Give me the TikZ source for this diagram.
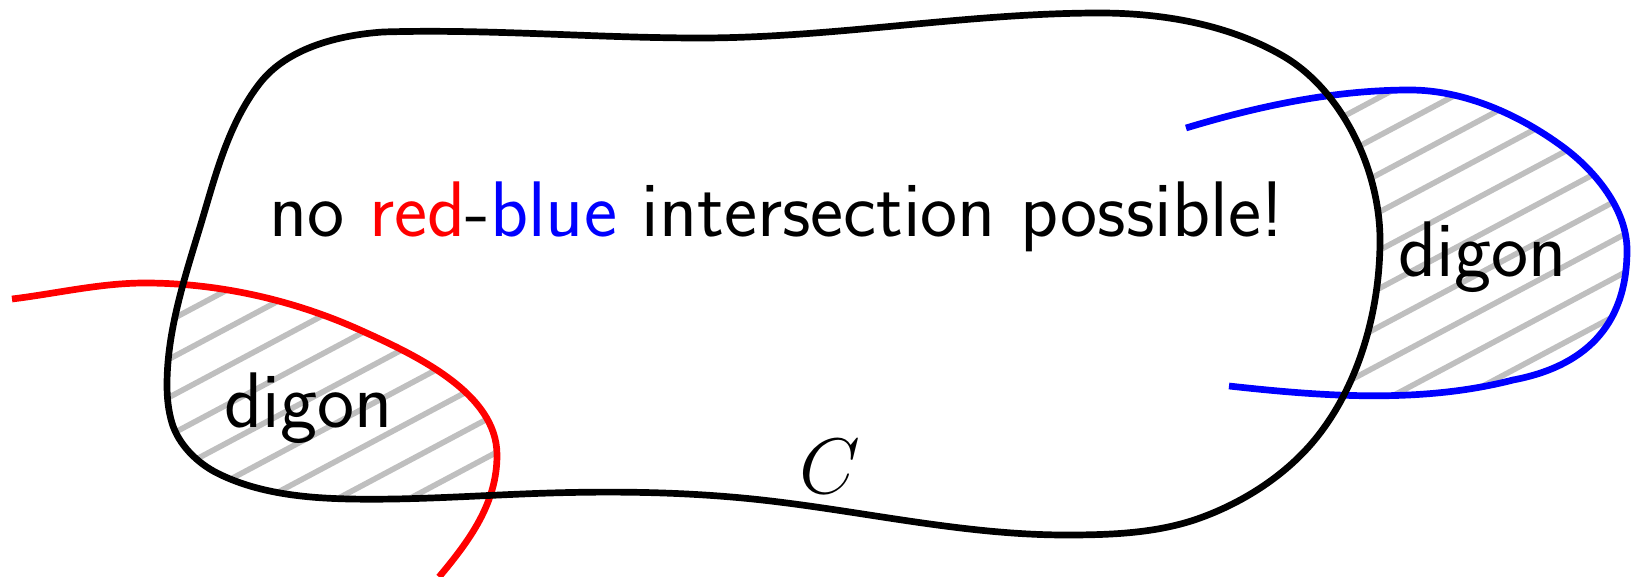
\RequirePackage{fix-cm}
\documentclass[tikz,border=0pt]{standalone}
\usepackage{fontspec}
\begin{document}
\begin{tikzpicture}[x=0.5pt,y=-0.5pt,
  curve/.style={line width=3.35pt},
  hatch/.style={lightgray,line width=2.8pt},
  lbl/.style={inner sep=0pt,anchor=base,font=\sffamily\fontsize{39.4}{47}\selectfont}]
\useasboundingbox (0,0) rectangle (1632,577);
\newcommand{\blackcurve}{(167,385)
 .. controls (167,331.2) and (184.4,278.6) .. (200,227)
 .. controls (215.1,177.1) and (227.8,124.1) .. (260,83)
 .. controls (287.5,47.9) and (338.6,35.1) .. (383,32)
 .. controls (488.7,28.8) and (594.3,38) .. (700,38)
 .. controls (833.6,38) and (966.4,13) .. (1100,13)
 .. controls (1162.7,13) and (1229.1,24.6) .. (1283,56)
 .. controls (1342.6,90.7) and (1380,170.7) .. (1380,240)
 .. controls (1380,308.9) and (1359.7,383.3) .. (1317,437)
 .. controls (1287.6,474) and (1244.6,501.9) .. (1200,518)
 .. controls (1157.7,533.3) and (1111,535) .. (1066,535)
 .. controls (964,535) and (863,511.2) .. (762,500)
 .. controls (692,492.2) and (620.7,490.9) .. (550,493)
 .. controls (483.3,495) and (416.7,500.3) .. (350,499)
 .. controls (304.8,498.1) and (257.2,493.3) .. (217,473)
 .. controls (197.1,462.9) and (178.5,444.5) .. (172,423)
 .. controls (168.3,410.7) and (167,397.8) .. cycle}
\newcommand{\redcurve}{(12,299)
 .. controls (56.3,293.6) and (100.3,283) .. (145,283)
 .. controls (218.4,283) and (293.2,299.9) .. (360,330)
 .. controls (416.2,355.3) and (497,393.2) .. (497,455)
 .. controls (497,503) and (470,540) .. (439,577)}
\newcommand{\bluecurve}{(1186,128)
 .. controls (1258.8,106) and (1334.2,90) .. (1410,90)
 .. controls (1464.4,90) and (1519.5,114.9) .. (1563,147)
 .. controls (1595.3,170.8) and (1627,209.6) .. (1627,250)
 .. controls (1627,328) and (1582,367) .. (1513,380)
 .. controls (1421.1,403.7) and (1322.8,396.4) .. (1229,386)}
\newcommand{\hatchlines}{\foreach \k in {-6,...,24} \draw[hatch] (0,{449+38.2*\k}) -- (1632,{449+38.2*\k-868});}
% left digon hatching
\begin{scope}
  \clip \blackcurve;
  \clip \redcurve -- (0,577) -- cycle;
  \hatchlines
\end{scope}
% right digon hatching
\begin{scope}[even odd rule]
  \clip (0,0) rectangle (1632,577) \blackcurve;
  \clip \bluecurve -- cycle;
  \hatchlines
\end{scope}
\draw[curve,red] \redcurve;
\draw[curve,blue] \bluecurve;
\draw[curve] \blackcurve;
\node[lbl] (title) at (777,236) {no \textcolor{red}{red}-\textcolor{blue}{blue} intersection possible!};
\node[lbl] (digonL) at (308.5,427) {digon};
\node[lbl] (digonR) at (1482.5,277) {digon};
\node[lbl,font=\fontsize{39.4}{47}\selectfont] (C) at (830,493) {$C$};
\end{tikzpicture}
\end{document}
